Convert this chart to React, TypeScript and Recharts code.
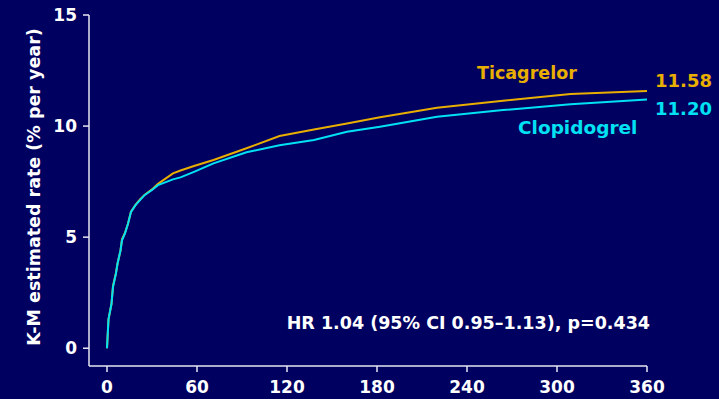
import React from 'react';
import { LineChart, Line, XAxis, YAxis, Customized } from 'recharts';

const days = [0, 1, 3, 4, 6, 7, 9, 10, 12, 14, 16, 19, 22, 25, 30, 34, 44, 49, 58, 71, 93, 115, 138, 160, 182, 220, 264, 309, 360];
const ticagrelor = [0, 1.3, 2.0, 2.8, 3.4, 3.8, 4.4, 4.9, 5.2, 5.6, 6.15, 6.45, 6.7, 6.9, 7.15, 7.4, 7.87, 8.0, 8.2, 8.47, 9.0, 9.55, 9.85, 10.12, 10.4, 10.82, 11.14, 11.44, 11.58];
const clopidogrel = [0, 1.3, 2.0, 2.76, 3.37, 3.8, 4.4, 4.86, 5.17, 5.6, 6.14, 6.44, 6.67, 6.89, 7.12, 7.34, 7.6, 7.69, 7.94, 8.32, 8.82, 9.14, 9.37, 9.74, 9.97, 10.42, 10.72, 10.98, 11.2];
const xTicks = [0, 60, 120, 180, 240, 300, 360];
const yTicks = [0, 5, 10, 15];

const data = days.map((d, i) => ({ day: d, tica: ticagrelor[i], clop: clopidogrel[i] }));

const BG = '#000060';
const AXIS = '#e6e6f0';
const GOLD = '#e8ae00';
const CYAN = '#00e2f4';
const FONT = '"DejaVu Sans", Arial, sans-serif';

const Annotations = () => (
  <g fontFamily={FONT} fontWeight="bold" fontSize={17.5}>
    <text x={477} y={79} fill={GOLD}>Ticagrelor</text>
    <text x={518} y={134} fill={CYAN} fontSize={18.5}>Clopidogrel</text>
    <text x={712} y={87} fill={GOLD} textAnchor="end" fontSize={18}>11.58</text>
    <text x={712} y={115} fill={CYAN} textAnchor="end" fontSize={18}>11.20</text>
    <text x={650} y={329} fill="#ffffff" textAnchor="end">HR 1.04 (95% CI 0.95–1.13), p=0.434</text>
    <text x={40} y={187} fill="#ffffff" textAnchor="middle" transform="rotate(-90 40 187)">K-M estimated rate (% per year)</text>
  </g>
);

export default function App() {
  return (
    <div style={{ position: 'absolute', left: 0, top: 0, width: 719, height: 399, background: BG }}>
      <LineChart width={719} height={399} data={data} margin={{ top: 15, right: 72, left: 0, bottom: 0 }}>
        <XAxis
          dataKey="day"
          type="number"
          domain={[-12, 360]}
          ticks={xTicks}
          height={33}
          tickSize={6}
          tickMargin={9}
          stroke={AXIS}
          strokeWidth={1.5}
          tick={{ fill: '#ffffff', fontFamily: FONT, fontWeight: 'bold', fontSize: 17 }}
          allowDataOverflow
        />
        <YAxis
          type="number"
          domain={[-0.8, 15]}
          ticks={yTicks}
          width={89}
          tickSize={6}
          tickMargin={6}
          stroke={AXIS}
          strokeWidth={1.5}
          tick={{ fill: '#ffffff', fontFamily: FONT, fontWeight: 'bold', fontSize: 17 }}
          allowDataOverflow
        />
        <Line dataKey="tica" type="linear" stroke={GOLD} strokeWidth={2} dot={false} isAnimationActive={false} />
        <Line dataKey="clop" type="linear" stroke={CYAN} strokeWidth={2} dot={false} isAnimationActive={false} />
        <Customized component={Annotations} />
      </LineChart>
    </div>
  );
}
